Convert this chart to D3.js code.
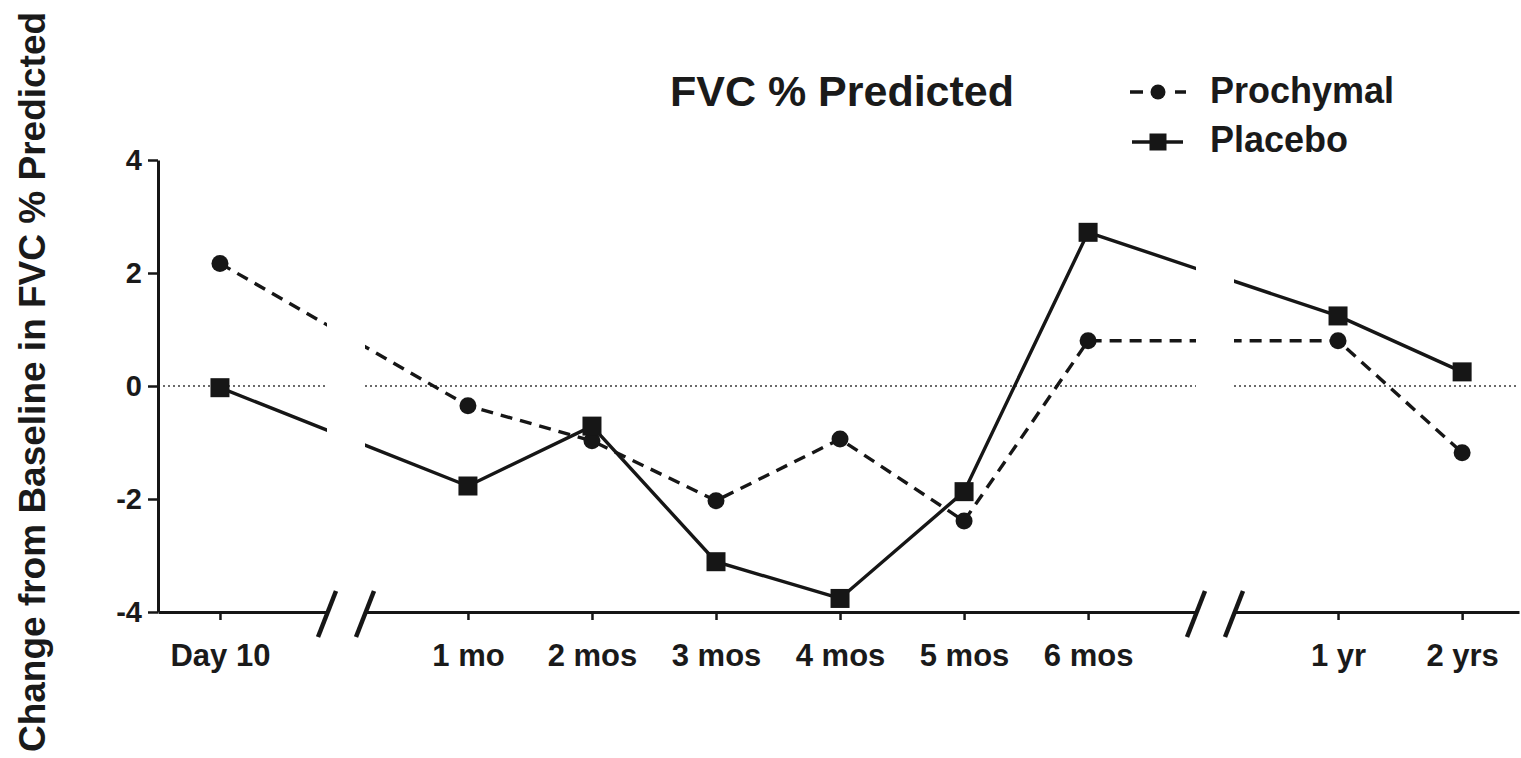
<!DOCTYPE html>
<html><head><meta charset="utf-8">
<script src="https://cdn.jsdelivr.net/npm/d3@7"></script>
<style>
body{margin:0;background:#fff;}
text{font-family:"Liberation Sans",Arial,Helvetica,sans-serif;font-weight:bold;fill:#1a1a1a;}
</style>
</head><body>
<svg id="chart" width="1521" height="758"></svg>
<script>
// ---- data ----
const timeLabels = ["Day 10","1 mo","2 mos","3 mos","4 mos","5 mos","6 mos","1 yr","2 yrs"];
const timeMonths = [0.33, 1, 2, 3, 4, 5, 6, 12, 24];
const axisSegmentOf = [0, 1, 1, 1, 1, 1, 1, 2, 2];
const prochymal = [2.17, -0.35, -0.97, -2.03, -0.94, -2.39, 0.80, 0.80, -1.18];
const placebo   = [-0.03, -1.77, -0.71, -3.11, -3.76, -1.87, 2.72, 1.24, 0.25];
const yTicks = [-4, -2, 0, 2, 4];
const seriesNames = ["Prochymal", "Placebo"];
const titleText = "FVC % Predicted";
const yTitle = "Change from Baseline in FVC % Predicted";

// ---- layout ----
const svg = d3.select("#chart");
const yTop = 160, yBottom = 612;
const segments = [
  {domain: [0, 0.9],     range: [158, 327]},
  {domain: [0.17, 6.87], range: [365, 1196]},
  {domain: [1.94, 29.5], range: [1234, 1519]}
];
segments.forEach(s => s.scale = d3.scaleLinear().domain(s.domain).range(s.range));
const y = d3.scaleLinear().domain([-4, 4]).range([yBottom, yTop]);
const xPos = i => segments[axisSegmentOf[i]].scale(timeMonths[i]);

const ink = "#161616";

// clip paths per segment
const defs = svg.append("defs");
segments.forEach((s, k) => {
  defs.append("clipPath").attr("id", "seg" + k)
    .append("rect").attr("x", s.range[0]).attr("y", 0)
    .attr("width", s.range[1] - s.range[0]).attr("height", 758);
});

// zero reference line (dotted)
segments.forEach(s => {
  svg.append("line")
    .attr("x1", s.range[0]).attr("x2", s.range[1])
    .attr("y1", y(0)).attr("y2", y(0))
    .attr("stroke", "#3a3a3a").attr("stroke-width", 1.3)
    .attr("stroke-dasharray", "2,3");
});

// lines
const pts = vals => vals.map((v, i) => [xPos(i), y(v)]);
const lineGen = d3.line();
const seriesData = [
  {name: seriesNames[0], values: prochymal, dash: "12,8", marker: "circle"},
  {name: seriesNames[1], values: placebo, dash: null, marker: "square"}
];
seriesData.forEach(sd => {
  segments.forEach((s, k) => {
    svg.append("path")
      .attr("d", lineGen(pts(sd.values)))
      .attr("fill", "none").attr("stroke", ink)
      .attr("stroke-width", 3.4)
      .attr("stroke-dasharray", sd.dash)
      .attr("clip-path", `url(#seg${k})`);
  });
});

// markers
seriesData.forEach(sd => {
  const g = svg.append("g");
  if (sd.marker === "circle") {
    g.selectAll("circle").data(sd.values).join("circle")
      .attr("cx", (d, i) => xPos(i)).attr("cy", d => y(d))
      .attr("r", 8.5).attr("fill", ink);
  } else {
    const sz = 19;
    g.selectAll("rect").data(sd.values).join("rect")
      .attr("x", (d, i) => xPos(i) - sz / 2).attr("y", d => y(d) - sz / 2)
      .attr("width", sz).attr("height", sz).attr("fill", ink);
  }
});

// x axis segments
segments.forEach((s, k) => {
  const idx = timeMonths.map((t, i) => i).filter(i => axisSegmentOf[i] === k);
  const ax = d3.axisBottom(s.scale)
    .tickValues(idx.map(i => timeMonths[i]))
    .tickFormat(t => timeLabels[timeMonths.indexOf(t)])
    .tickSize(8).tickSizeOuter(0).tickPadding(24);
  const g = svg.append("g").attr("transform", `translate(0,${yBottom})`).call(ax);
  g.select(".domain").attr("stroke", ink).attr("stroke-width", 3);
  g.selectAll(".tick line").attr("stroke", ink).attr("stroke-width", 2.5);
  g.selectAll(".tick text").style("font-size", "31px").attr("fill", ink);
});

// axis break marks
const breakXs = [segments[0].range[1], segments[1].range[0], segments[1].range[1], segments[2].range[0]];
breakXs.forEach(bx => {
  svg.append("line")
    .attr("x1", bx - 9).attr("y1", yBottom + 25)
    .attr("x2", bx + 9).attr("y2", yBottom - 21)
    .attr("stroke", ink).attr("stroke-width", 4.5);
});

// y axis
const yAx = d3.axisLeft(y).tickValues(yTicks).tickFormat(d => String(d))
  .tickSize(10).tickSizeOuter(0).tickPadding(6);
const gy = svg.append("g").attr("transform", `translate(${segments[0].range[0]},0)`).call(yAx);
gy.select(".domain").attr("stroke", ink).attr("stroke-width", 3);
gy.selectAll(".tick line").attr("stroke", ink).attr("stroke-width", 2.5);
gy.selectAll(".tick text").style("font-size", "29px").attr("fill", ink);

// y title
svg.append("text")
  .attr("transform", "translate(45,382) rotate(-90)")
  .attr("text-anchor", "middle")
  .style("font-size", "37px")
  .text(yTitle);

// title
svg.append("text")
  .attr("x", 842).attr("y", 106).attr("text-anchor", "middle")
  .style("font-size", "43px")
  .text(titleText);

// legend
const lg = svg.append("g");
const legendRows = [
  {s: seriesData[0], y: 92, ty: 103},
  {s: seriesData[1], y: 142, ty: 152}
];
legendRows.forEach(r => {
  if (r.s.marker === "circle") {
    lg.append("line").attr("x1", 1130).attr("x2", 1186).attr("y1", r.y).attr("y2", r.y)
      .attr("stroke", ink).attr("stroke-width", 3.4).attr("stroke-dasharray", "13,32");
    lg.append("circle").attr("cx", 1158).attr("cy", r.y).attr("r", 7.5).attr("fill", ink);
  } else {
    lg.append("line").attr("x1", 1132).attr("x2", 1183).attr("y1", r.y).attr("y2", r.y)
      .attr("stroke", ink).attr("stroke-width", 3.4);
    lg.append("rect").attr("x", 1158 - 8.5).attr("y", r.y - 8.5).attr("width", 17).attr("height", 17).attr("fill", ink);
  }
  lg.append("text").attr("x", 1210).attr("y", r.ty)
    .style("font-size", "36px").text(r.s.name);
});
</script>
</body></html>
